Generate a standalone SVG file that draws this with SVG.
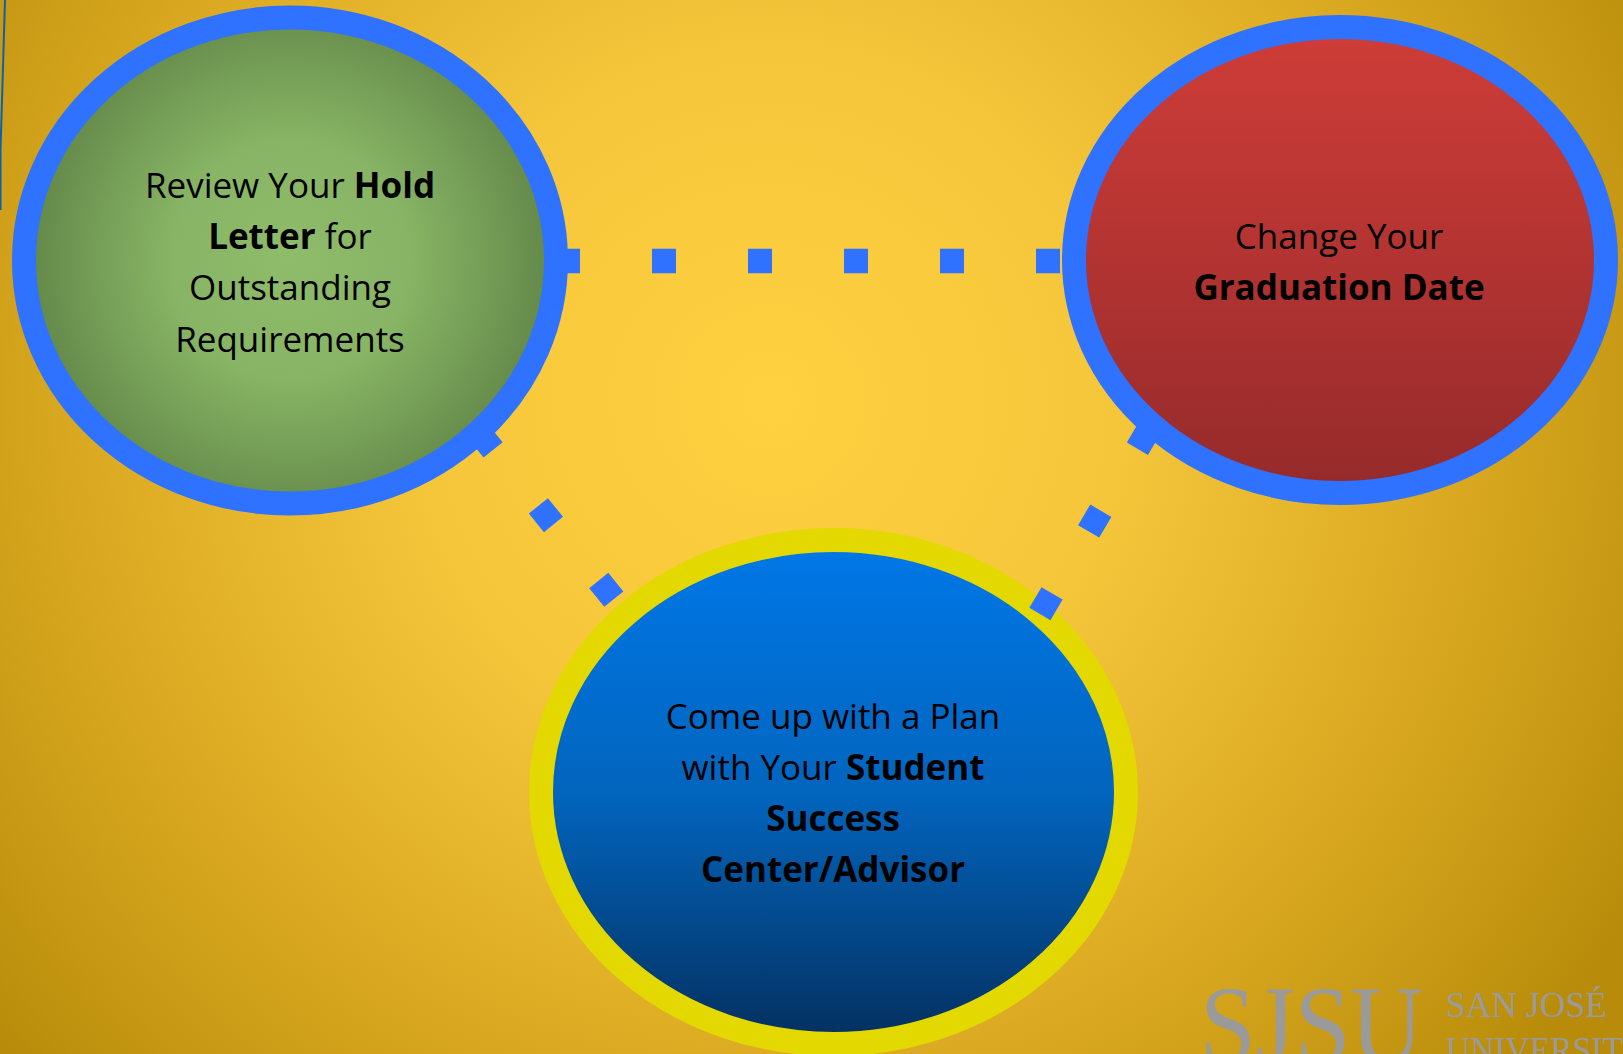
<svg xmlns="http://www.w3.org/2000/svg" width="1623" height="1054" viewBox="0 0 1623 1054">
<defs>
<radialGradient id="bg" gradientUnits="userSpaceOnUse" cx="770" cy="400" r="1000"><stop offset="0" stop-color="#FFD140"/><stop offset="0.35" stop-color="#F5C63A"/><stop offset="0.7" stop-color="#D9A820"/><stop offset="1" stop-color="#B88C0A"/></radialGradient>
<radialGradient id="gr" gradientUnits="userSpaceOnUse" cx="290" cy="260" r="260"><stop offset="0" stop-color="#8EBC6A"/><stop offset="0.45" stop-color="#88B565"/><stop offset="1" stop-color="#64894A"/></radialGradient>
<linearGradient id="rd" x1="0" y1="0" x2="0" y2="1"><stop offset="0" stop-color="#CF3D38"/><stop offset="1" stop-color="#952A2B"/></linearGradient>
<linearGradient id="bl" x1="0" y1="0" x2="0" y2="1"><stop offset="0" stop-color="#0078E8"/><stop offset="0.5" stop-color="#0265BE"/><stop offset="1" stop-color="#042F5E"/></linearGradient>
</defs>
<style>
.ring{stroke-width:24}
.lbl{font-family:"Open Sans","Noto Sans",sans-serif;font-size:35px;fill:#000;text-anchor:middle}
.b{font-weight:700}
.dash{fill:none;stroke:#2E72FF;stroke-width:24.5;stroke-dasharray:24 72}
.logo{font-family:"Liberation Serif",serif;fill:#9A9A9A}
</style>
<rect width="1623" height="1054" fill="url(#bg)"/>
<path d="M5 0L0.5 150V210" fill="none" stroke="#0B62A8" stroke-width="2"/>
<g id="logo">
<text class="logo" x="1200" y="1062" font-size="110" textLength="223" lengthAdjust="spacingAndGlyphs">SJSU</text>
<text class="logo" x="1446" y="1017" font-size="36" textLength="161" lengthAdjust="spacingAndGlyphs">SAN JOSÉ</text>
<text class="logo" x="1446" y="1062" font-size="36" textLength="177" lengthAdjust="spacingAndGlyphs">UNIVERSIT</text>
</g>
<g id="node-hold">
<ellipse class="ring" cx="290" cy="260.5" rx="266" ry="243" fill="url(#gr)" stroke="#2E72FF"/>
<text class="lbl" x="290" y="198">Review Your <tspan class="b">Hold</tspan></text>
<text class="lbl" x="290" y="249"><tspan class="b">Letter</tspan> for</text>
<text class="lbl" x="290" y="300">Outstanding</text>
<text class="lbl" x="290" y="352">Requirements</text>
</g>
<g id="node-date">
<ellipse class="ring" cx="1340" cy="260" rx="266" ry="233" fill="url(#rd)" stroke="#2E72FF"/>
<text class="lbl" x="1339" y="249">Change Your</text>
<text class="lbl b" x="1339" y="300">Graduation Date</text>
</g>
<g id="node-plan">
<ellipse class="ring" cx="833.500" cy="792" rx="292.500" ry="252" fill="url(#bl)" stroke="#E3D800"/>
<text class="lbl" x="833" y="729">Come up with a Plan</text>
<text class="lbl" x="833" y="780">with Your <tspan class="b">Student</tspan></text>
<text class="lbl b" x="833" y="831">Success</text>
<text class="lbl b" x="833" y="882">Center/Advisor</text>
</g>
<g id="connectors">
<line class="dash" x1="556" y1="261" x2="1060" y2="261"/>
<line class="dash" x1="478" y1="431.200" x2="614.500" y2="600"/>
<line class="dash" x1="1149.600" y1="428" x2="1039.900" y2="614"/>
</g>
</svg>
